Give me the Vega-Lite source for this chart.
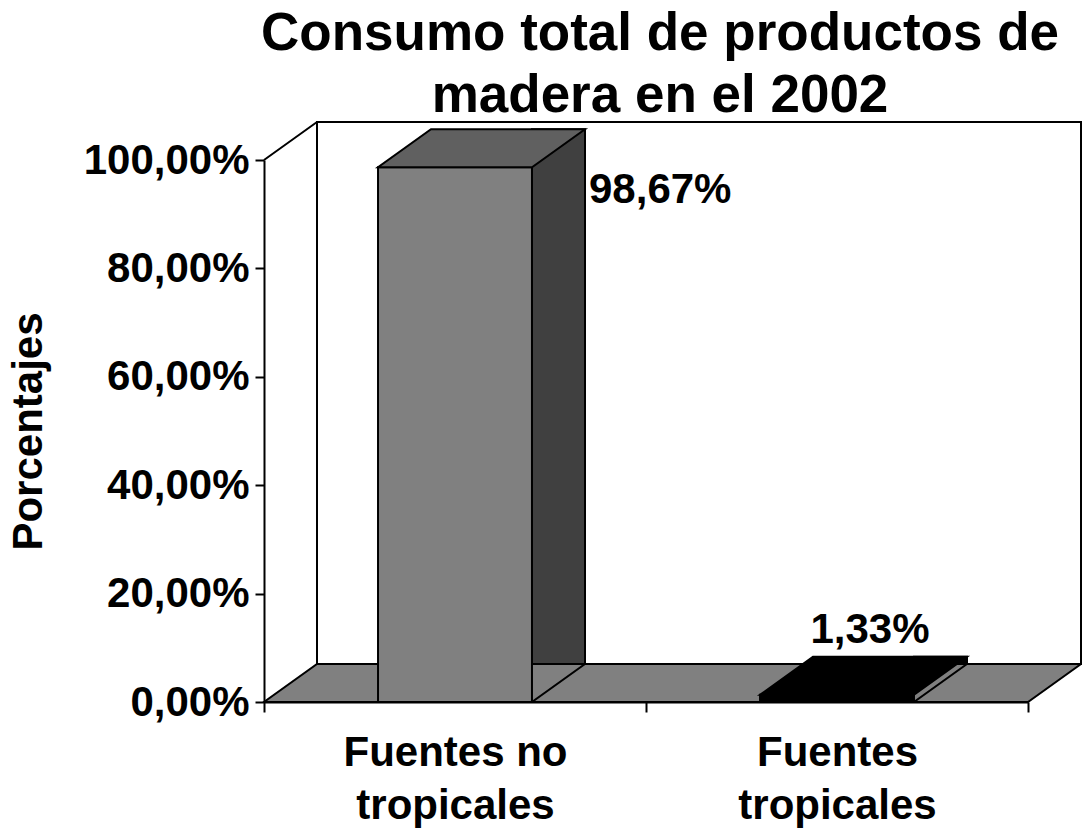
{
  "$schema": "https://vega.github.io/schema/vega-lite/v6.json",
  "autosize": {"type": "none"},
  "padding": {"left": 264, "top": 160, "right": 54, "bottom": 128},
  "width": 764,
  "height": 542,
  "config": {
    "font": "Liberation Sans",
    "view": {"stroke": null}
  },
  "title": {
    "text": ["Consumo total de productos de", "madera en el 2002"],
    "fontSize": 53,
    "fontWeight": "bold",
    "color": "#000000",
    "anchor": "middle",
    "frame": "group",
    "lineHeight": 62,
    "dx": 14,
    "offset": -5
  },
  "data": {
    "values": [
      {"fuente": "Fuentes no tropicales", "pct": 98.67},
      {"fuente": "Fuentes tropicales", "pct": 1.33}
    ]
  },
  "encoding": {
    "x": {
      "field": "fuente", "type": "nominal", "sort": null,
      "scale": {"paddingInner": 0, "paddingOuter": 0},
      "axis": {
        "title": null,
        "labelAngle": 0,
        "labelLimit": 0,
        "tickBand": "extent",
        "labelExpr": "[slice(datum.label, 0, lastindexof(datum.label, ' ')), slice(datum.label, lastindexof(datum.label, ' ') + 1)]",
        "labelFontSize": 42,
        "labelFontWeight": "bold",
        "labelColor": "#000000",
        "labelLineHeight": 53,
        "labelPadding": 20,
        "tickSize": 10,
        "tickWidth": 2,
        "tickColor": "#000000",
        "domainColor": "#000000",
        "domainWidth": 2,
        "zindex": 1
      }
    },
    "y": {
      "field": "pct", "type": "quantitative",
      "scale": {"domain": [0, 100], "nice": false},
      "axis": {
        "title": "Porcentajes",
        "titleFontSize": 42,
        "titleFontWeight": "bold",
        "titleColor": "#000000",
        "titlePadding": 33,
        "values": [0, 20, 40, 60, 80, 100],
        "labelExpr": "replace(format(datum.value, '.2f'), '.', ',') + '%'",
        "labelFontSize": 42,
        "labelFontWeight": "bold",
        "labelColor": "#000000",
        "labelLimit": 0,
        "labelPadding": 6,
        "tickSize": 9,
        "tickWidth": 2,
        "tickColor": "#000000",
        "domainColor": "#000000",
        "domainWidth": 2,
        "grid": false,
        "zindex": 1
      }
    }
  },
  "layer": [
    {
      "transform": [{"filter": "datum.fuente == 'Fuentes no tropicales'"}],
      "mark": {"type": "point", "shape": "M53,-38L817,-38L817,-580L53,-580ZM0,-542L53,-580", "size": 4,
               "filled": true, "fill": "#ffffff", "stroke": "#000000", "strokeWidth": 2, "opacity": 1},
      "encoding": {
        "x": {"field": "fuente", "type": "nominal", "sort": null, "bandPosition": 0},
        "y": {"datum": 0, "type": "quantitative"}
      }
    },
    {
      "transform": [{"filter": "datum.fuente == 'Fuentes no tropicales'"}],
      "mark": {"type": "point", "shape": "M0,0L764,0L817,-38L53,-38Z", "size": 4, "filled": true,
               "fill": "#808080", "stroke": "#000000", "strokeWidth": 2, "opacity": 1},
      "encoding": {
        "x": {"field": "fuente", "type": "nominal", "sort": null, "bandPosition": 0},
        "y": {"datum": 0, "type": "quantitative"}
      }
    },
    {
      "mark": {"type": "bar", "width": {"band": 0.403}, "stroke": "#000000", "strokeWidth": 2},
      "encoding": {
        "fill": {
          "field": "fuente", "type": "nominal", "legend": null,
          "scale": {"domain": ["Fuentes no tropicales", "Fuentes tropicales"], "range": ["#808080", "#000000"]}
        }
      }
    },
    {
      "mark": {"type": "bar", "width": 53, "xOffset": 103.5, "yOffset": -38, "stroke": "#000000", "strokeWidth": 2},
      "encoding": {
        "fill": {
          "field": "fuente", "type": "nominal", "legend": null,
          "scale": {"domain": ["Fuentes no tropicales", "Fuentes tropicales"], "range": ["#404040", "#000000"]}
        }
      }
    },
    {
      "mark": {"type": "point", "shape": "M-77,0L77,0L130,-38L-24,-38Z", "size": 4, "filled": true,
               "stroke": "#000000", "strokeWidth": 2, "opacity": 1},
      "encoding": {
        "fill": {
          "field": "fuente", "type": "nominal", "legend": null,
          "scale": {"domain": ["Fuentes no tropicales", "Fuentes tropicales"], "range": ["#606060", "#000000"]}
        }
      }
    },
    {
      "mark": {"type": "point", "shape": "M132,-38L130,-38L77,0L132,0", "size": 4, "filled": true,
               "fill": "#808080", "stroke": "#000000", "strokeWidth": 2, "opacity": 1},
      "encoding": {
        "y": {"datum": 0, "type": "quantitative"}
      }
    },
    {
      "transform": [{"filter": "datum.fuente == 'Fuentes no tropicales'"}],
      "mark": {"type": "text", "align": "left", "baseline": "alphabetic", "dx": 134, "dy": 36,
               "fontSize": 42, "fontWeight": "bold", "color": "#000000",
               "text": {"expr": "replace(format(datum.pct, '.2f'), '.', ',') + '%'"}}
    },
    {
      "transform": [{"filter": "datum.fuente == 'Fuentes tropicales'"}],
      "mark": {"type": "text", "align": "center", "baseline": "alphabetic", "dx": 33, "dy": -52,
               "fontSize": 42, "fontWeight": "bold", "color": "#000000",
               "text": {"expr": "replace(format(datum.pct, '.2f'), '.', ',') + '%'"}}
    }
  ],
  "resolve": {"scale": {"fill": "independent"}}
}
